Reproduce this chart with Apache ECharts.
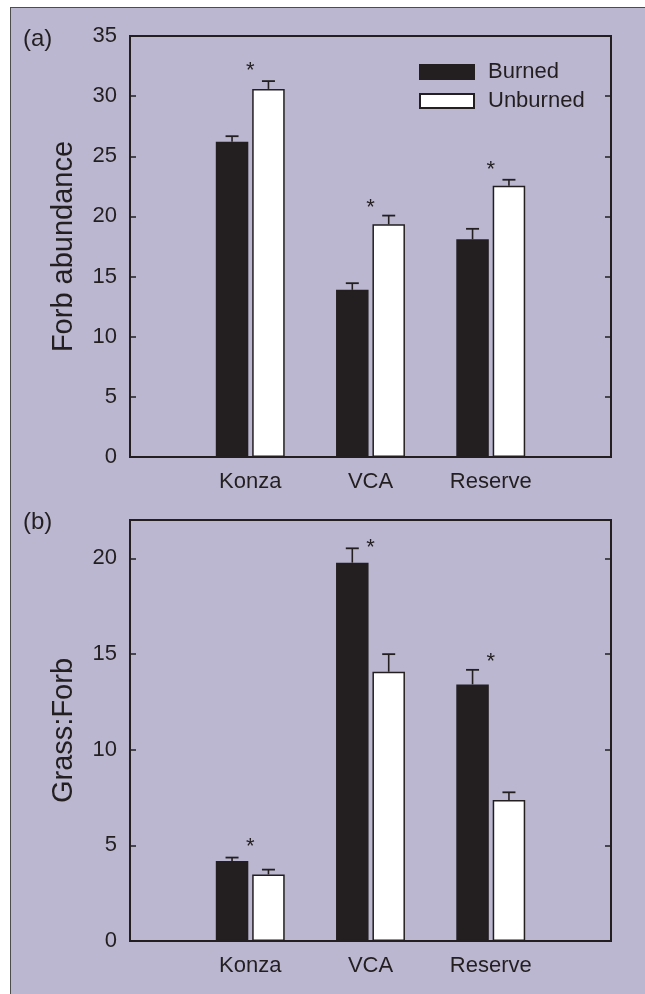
<!DOCTYPE html>
<html>
<head>
<meta charset="utf-8">
<script src="https://cdn.jsdelivr.net/npm/echarts@6/dist/echarts.min.js"></script>
<style>
  html, body { margin: 0; padding: 0; background: #ffffff; }
  #bg { position: absolute; left: 10px; top: 7px; width: 635px; height: 987px;
        background: #BBB7D1; border-left: 1px solid #4d4d4d; border-top: 1px solid #4d4d4d; }
  #chart { position: absolute; left: 0; top: 0; width: 645px; height: 994px; }
</style>
</head>
<body>
<div id="bg"></div>
<div id="chart"></div>
<script>
// ---- data ----
const categories = ['Konza', 'VCA', 'Reserve'];
const seriesNames = ['Burned', 'Unburned'];

const forbBurned = [26.2, 13.9, 18.1];
const forbBurnedSE = [0.47, 0.55, 0.87];
const forbUnburned = [30.6, 19.35, 22.55];
const forbUnburnedSE = [0.65, 0.72, 0.5];
const forbStars = [32.5, 21.15, 24.25];

const ratioBurned = [4.18, 19.77, 13.41];
const ratioBurnedSE = [0.18, 0.75, 0.76];
const ratioUnburned = [3.48, 14.07, 7.37];
const ratioUnburnedSE = [0.25, 0.92, 0.4];
const ratioStars = [5.18, 20.78, 14.82];

const forbTicks = { min: 0, max: 35, interval: 5 };
const ratioTicks = { min: 0, max: 22, interval: 5 };

// ---- style constants ----
const INK = '#231F20';
const FONT = 'Liberation Sans, Arial, Helvetica, sans-serif';
const BAR_W = 32.5;
const BORDER = 1.5;
const BAR_GAP = '12%';
const HALF_OFFSET = 18.2;   // px from category centre to bar centre
const CAP = 13;

// axis data padded with an empty slot on each side
const axisData = [''].concat(categories, ['']);
const pad = arr => [null].concat(arr, [null]);

function errData(vals, se) {
  return vals.map((v, i) => [i + 1, v, se[i]]);
}
function starData(vals) {
  return vals.map((v, i) => [i + 1, v]);
}

function errSeries(name, xi, yi, vals, se, sign) {
  return {
    type: 'custom', name: name + ' SE', xAxisIndex: xi, yAxisIndex: yi, z: 5,
    silent: true,
    data: errData(vals, se),
    renderItem: function (params, api) {
      const base = api.coord([api.value(0), api.value(1)]);
      const top = api.coord([api.value(0), api.value(1) + api.value(2)]);
      const x = base[0] + sign * HALF_OFFSET;
      return {
        type: 'group',
        children: [
          { type: 'line', shape: { x1: x, y1: base[1], x2: x, y2: top[1] },
            style: { stroke: INK, lineWidth: 1.6 } },
          { type: 'line', shape: { x1: x - CAP / 2, y1: top[1], x2: x + CAP / 2, y2: top[1] },
            style: { stroke: INK, lineWidth: 1.8 } }
        ]
      };
    }
  };
}

function starSeries(xi, yi, vals) {
  return {
    type: 'custom', xAxisIndex: xi, yAxisIndex: yi, z: 6, silent: true,
    data: starData(vals),
    renderItem: function (params, api) {
      const p = api.coord([api.value(0), api.value(1)]);
      return {
        type: 'text',
        style: { text: '*', x: p[0], y: p[1] + 5, textAlign: 'center', textVerticalAlign: 'middle',
                 font: '22px ' + FONT, fill: INK }
      };
    }
  };
}

function barSeries(name, xi, yi, vals) {
  const burned = name === 'Burned';
  return {
    type: 'bar', name: name, xAxisIndex: xi, yAxisIndex: yi,
    data: pad(vals), barWidth: BAR_W, barGap: BAR_GAP,
    itemStyle: burned
      ? { color: INK, borderColor: INK, borderWidth: BORDER }
      : { color: '#ffffff', borderColor: INK, borderWidth: BORDER },
    emphasis: { disabled: true },
    z: 3
  };
}

function xAxis(gi) {
  return {
    type: 'category', gridIndex: gi, data: axisData, boundaryGap: false,
    axisLine: { lineStyle: { color: INK, width: 2 } },
    axisTick: { show: false },
    axisLabel: { interval: 0, margin: 14, fontSize: 22, color: INK, fontFamily: FONT },
    splitLine: { show: false }
  };
}

function yAxes(gi, ticks, name, hideMax) {
  const common = {
    type: 'value', gridIndex: gi, min: ticks.min, max: ticks.max, interval: ticks.interval,
    axisLine: { show: true, lineStyle: { color: INK, width: 2 } },
    axisTick: { show: true, inside: true, length: 6, lineStyle: { color: INK, width: 1.5 } },
    splitLine: { show: false }
  };
  return [
    Object.assign({}, common, {
      position: 'left',
      name: name, nameLocation: 'middle', nameGap: 52,
      nameTextStyle: { fontSize: 29, color: INK, fontFamily: FONT },
      axisLabel: { margin: 13, fontSize: 22, color: INK, fontFamily: FONT,
                   showMaxLabel: !hideMax, showMinLabel: true }
    }),
    Object.assign({}, common, {
      position: 'right',
      axisLabel: { show: false }
    })
  ];
}

const option = {
  backgroundColor: 'transparent',
  animation: false,
  title: [
    { text: '(a)', left: 23, top: 27, padding: 0,
      textStyle: { fontSize: 24, fontWeight: 'normal', color: INK, fontFamily: FONT } },
    { text: '(b)', left: 23, top: 510, padding: 0,
      textStyle: { fontSize: 24, fontWeight: 'normal', color: INK, fontFamily: FONT } }
  ],
  legend: {
    data: seriesNames, orient: 'vertical', left: 419, top: 61, padding: 0,
    itemWidth: 54, itemHeight: 14, itemGap: 7, icon: 'rect',
    textStyle: { fontSize: 22, color: INK, fontFamily: FONT, padding: [0, 0, 0, 9] },
    selectedMode: false
  },
  grid: [
    { left: 130, right: 34, top: 36, height: 421, show: true, borderColor: INK, borderWidth: 2,
      backgroundColor: 'transparent', containLabel: false },
    { left: 130, right: 34, top: 520, height: 421, show: true, borderColor: INK, borderWidth: 2,
      backgroundColor: 'transparent', containLabel: false }
  ],
  xAxis: [xAxis(0), xAxis(1)],
  yAxis: yAxes(0, forbTicks, 'Forb abundance', false).concat(yAxes(1, ratioTicks, 'Grass:Forb', true)),
  series: [
    barSeries('Burned', 0, 0, forbBurned),
    barSeries('Unburned', 0, 0, forbUnburned),
    errSeries('Burned', 0, 0, forbBurned, forbBurnedSE, -1),
    errSeries('Unburned', 0, 0, forbUnburned, forbUnburnedSE, 1),
    starSeries(0, 0, forbStars),
    barSeries('Burned', 1, 2, ratioBurned),
    barSeries('Unburned', 1, 2, ratioUnburned),
    errSeries('Burned', 1, 2, ratioBurned, ratioBurnedSE, -1),
    errSeries('Unburned', 1, 2, ratioUnburned, ratioUnburnedSE, 1),
    starSeries(1, 2, ratioStars)
  ]
};

const chart = echarts.init(document.getElementById('chart'), null, { renderer: 'canvas' });
chart.setOption(option);
</script>
</body>
</html>
